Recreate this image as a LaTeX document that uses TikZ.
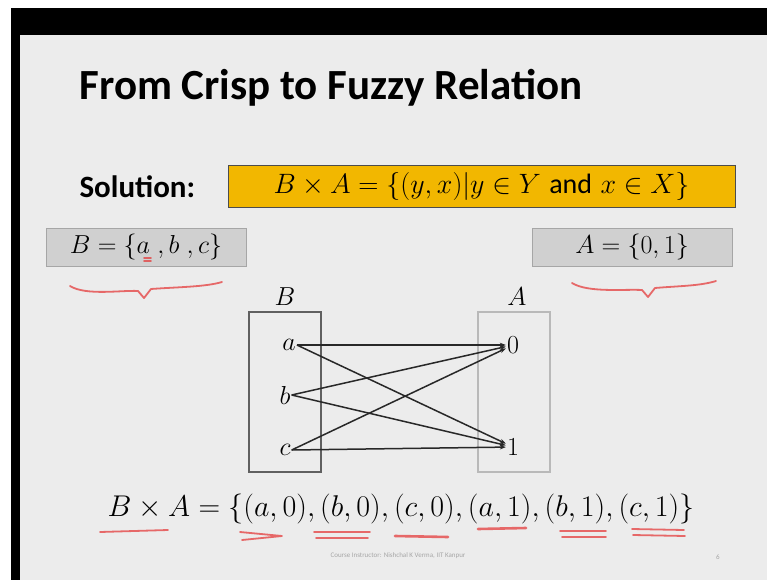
\RequirePackage{fix-cm}
\documentclass[tikz,border=0pt]{standalone}
\usepackage{amsmath}
\usepackage{fontspec}
\setsansfont{Carlito}
\usetikzlibrary{positioning}
\usetikzlibrary{arrows.meta}
\definecolor{slidebg}{RGB}{236,236,236}
\definecolor{gold}{RGB}{242,183,0}
\definecolor{boxgray}{RGB}{208,208,208}
\definecolor{pen}{RGB}{228,60,60}
\definecolor{ink}{RGB}{40,40,40}

\begin{document}
\begin{tikzpicture}[x=1pt, y=-1pt,
    setbox/.style={draw=gray!75!black, line width=1.2pt, minimum width=72pt, minimum height=160pt},
    defbox/.style={draw=gray!70, line width=0.8pt, fill=boxgray, minimum width=200pt, minimum height=38pt, font=\fontsize{26}{28}\selectfont},
    elem/.style={font=\fontsize{26}{28}\selectfont, inner sep=1pt},
    arr/.style={-{Stealth[length=6pt, width=4.5pt]}, ink, line width=1.5pt},
    redpen/.style={draw=pen, line width=1.8pt, opacity=.75, line cap=round, line join=round}]
    \useasboundingbox (0,0) rectangle (767,580);
    \fill[white] (0,0) rectangle (767,580);
    \fill[black] (11,8) rectangle (767,580);
    \fill[slidebg] (20,35) rectangle (767,580);

    \node[anchor=west, font=\sffamily\bfseries\fontsize{43}{45}\selectfont] (title) at (76,88) {From Crisp to Fuzzy Relation};
    \node[anchor=west, font=\sffamily\bfseries\fontsize{31}{33}\selectfont] (sol) at (76,187) {Solution:};
    \node[draw=gray!60!black, fill=gold, minimum width=507pt, minimum height=42pt, font=\fontsize{28}{30}\selectfont] (rule) at (481.5,186) {$B \times A = \{(y,x)|y \in Y$ \textsf{and} $x \in X\}$};

    \node[defbox] (defB) at (146,247) {$B = \{a\;,b\;,c\}$};
    \node[defbox] (defA) at (632,247) {$A = \{0,1\}$};

    % the two sets
    \node[setbox] (setB) at (285,392) {};
    \node[setbox, draw=gray!55] (setA) at (514,392) {};
    \node[elem] (labB) at (285,297) {$B$};
    \node[elem] (labA) at (517,297) {$A$};
    \node[elem] (a) at (289,345) {$a$};
    \node[elem] (b) at (285,395) {$b$};
    \node[elem] (c) at (285,450) {$c$};
    \node[elem] (zero) at (513,345) {$0$};
    \node[elem] (one) at (513,447) {$1$};

    \draw[arr] (a.east) -- (zero);
    \draw[arr] (a.east) -- (one);
    \draw[arr] (b.east) -- (zero);
    \draw[arr] (b.east) -- (one);
    \draw[arr] (c.east) -- (zero);
    \draw[arr] (c.east) -- (one);

    \node[font=\fontsize{30}{32}\selectfont] (prod) at (401,509) {$B \times A = \{(a,0),(b,0),(c,0),(a,1),(b,1),(c,1)\}$};

    \node[font=\sffamily\fontsize{7}{8}\selectfont, text=gray!70] (foot) at (398,556) {Course Instructor: Nishchal K Verma, IIT Kanpur};
    \node[font=\sffamily\fontsize{7}{8}\selectfont, text=gray!70] (pgno) at (718,557) {6};

    % pen marks
    \draw[redpen] (144,258) -- (151,258) (144,261) -- (151,261);
    \draw[redpen] (70,286) .. controls (86,296) and (122,290) .. (138,291) -- (144,298) -- (151,289) .. controls (178,287) and (205,287) .. (222,282);
    \draw[redpen] (572,283) .. controls (588,293) and (625,289) .. (642,290) -- (648,297) -- (655,288) .. controls (678,286) and (700,286) .. (716,281);
    \draw[redpen] (100,532) -- (168,530);
    \draw[redpen] (240,532) -- (282,536) -- (242,540);
    \draw[redpen] (314,532) -- (370,532) (316,538) -- (368,538);
    \draw[redpen, line width=2.6pt] (395,536) -- (448,537);
    \draw[redpen, line width=2.6pt] (478,529) -- (526,528);
    \draw[redpen] (560,531) -- (606,531) (562,537) -- (606,537);
    \draw[redpen] (632,529) -- (684,530) (633,535) -- (685,536);
\end{tikzpicture}
\end{document}
